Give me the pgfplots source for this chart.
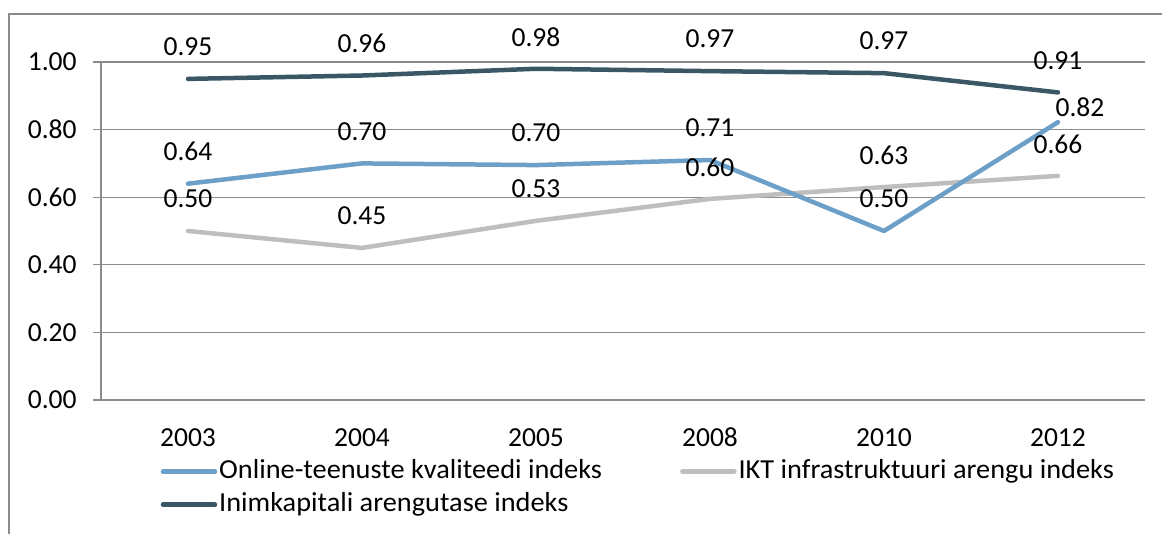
\documentclass[border=0pt]{standalone}
\usepackage{pgfplots}
\pgfplotsset{compat=1.18}
\usepackage{fontspec}
\setmainfont{Carlito}
\newfontfamily\legfont{Carlito}[FakeStretch=1.03]
\newcommand{\cf}{\fontsize{27.5pt}{32pt}\selectfont}
\newcommand{\lf}{\legfont\fontsize{27.5pt}{32pt}\selectfont}
\definecolor{cBlue}{HTML}{6CA0C9}
\definecolor{cGray}{HTML}{BEBEBE}
\definecolor{cDark}{HTML}{3A5766}
\definecolor{cGrid}{HTML}{8C8C8C}
\begin{document}
\cf
\begin{tikzpicture}
\path[use as bounding box] (0pt,0pt) rectangle (1162pt,533pt);
\draw[cGrid, line width=1.2pt] (9pt,-10pt) -- (9pt,519pt) -- (1175pt,519pt);
\begin{axis}[
  at={(101pt,133pt)}, anchor=south west,
  scale only axis, width=1044pt, height=338pt,
  xmin=-0.5, xmax=5.5, ymin=0, ymax=1,
  clip=false,
  axis lines*=left,
  axis line style={cGrid, line width=1.3pt},
  xtick={0,...,5},
  xticklabels={2003,2004,2005,2008,2010,2012},
  minor xtick={-0.5,0.5,...,5.5},
  ytick={0,0.2,...,1.0},
  ymajorgrids,
  grid style={cGrid, line width=1.3pt},
  tick align=outside,
  major tick length=8pt, minor tick length=8pt,
  every tick/.style={cGrid, line width=1.3pt},
  xtick style={draw=none},
  yticklabel style={/pgf/number format/fixed, /pgf/number format/fixed zerofill, /pgf/number format/precision=2, /pgf/number format/assume math mode=true,
    font=\cf, xshift=-7pt},
  xticklabel style={font=\cf, anchor=base, yshift=-38pt},
  legend style={draw=none, fill=none, inner sep=0pt, at={(axis description cs:0.057,-0.1686)}, anchor=north west,
    font=\lf, row sep=4pt,
    nodes={inner sep=2pt, text height=19pt, text depth=6pt},
    /tikz/every even column/.append style={column sep=76pt}},
  legend columns=2,
  legend cell align=left,
  legend image code/.code={\draw[#1] (0pt,0pt) -- (52pt,0pt);},
  every axis plot/.append style={line width=4.5pt, line cap=round, line join=round},
  labstyle/.style={draw=none, forget plot, point meta=explicit symbolic,
    nodes near coords,
    every node near coord/.append style={anchor=center, yshift=32pt, inner sep=0pt, text=black, font=\cf}},
]
\addlegendimage{cBlue}
\addlegendimage{cGray}
\addlegendimage{cDark}
\legend{Online-teenuste kvaliteedi indeks, IKT infrastruktuuri arengu indeks, Inimkapitali arengutase indeks}
% IKT
\addplot[cGray, forget plot] table[row sep=\\] {x y\\ 0 0.50\\ 1 0.45\\ 2 0.53\\ 3 0.595\\ 4 0.63\\ 5 0.663\\};
% Online
\addplot[cBlue, forget plot] table[row sep=\\] {x y\\ 0 0.64\\ 1 0.70\\ 2 0.695\\ 3 0.71\\ 4 0.50\\ 5 0.822\\};
% Inimkapitali
\addplot[cDark, forget plot] table[row sep=\\] {x y\\ 0 0.95\\ 1 0.96\\ 2 0.98\\ 3 0.973\\ 4 0.967\\ 5 0.91\\};
% labels
\addplot[labstyle] table[row sep=\\, meta=lab] {x y lab\\ 0 0.50 0.50\\ 1 0.45 0.45\\ 2 0.53 0.53\\ 3 0.595 0.60\\ 4 0.63 0.63\\ 5 0.663 0.66\\};
\addplot[labstyle] table[row sep=\\, meta=lab] {x y lab\\ 0 0.64 0.64\\ 1 0.70 0.70\\ 2 0.695 0.70\\ 3 0.71 0.71\\ 4 0.50 0.50\\};
\addplot[labstyle, every node near coord/.append style={xshift=22pt, yshift=-17pt}] table[row sep=\\, meta=lab] {x y lab\\ 5 0.822 0.82\\};
\addplot[labstyle] table[row sep=\\, meta=lab] {x y lab\\ 0 0.95 0.95\\ 1 0.96 0.96\\ 2 0.98 0.98\\ 3 0.973 0.97\\ 4 0.967 0.97\\ 5 0.91 0.91\\};
\end{axis}
\end{tikzpicture}
\end{document}
